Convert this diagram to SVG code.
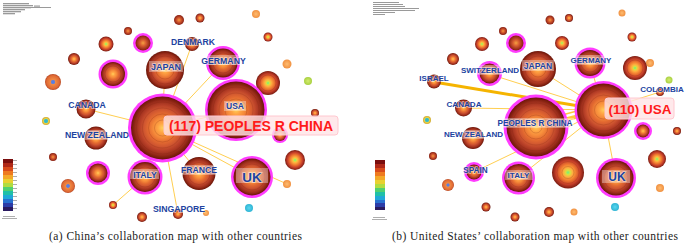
<svg xmlns="http://www.w3.org/2000/svg" width="685" height="243" viewBox="0 0 685 243">
<defs>
<radialGradient id="rA"><stop offset="0" stop-color="#ffcf5a"/><stop offset="0.15" stop-color="#ffa444"/><stop offset="0.3" stop-color="#f58a3a"/><stop offset="0.45" stop-color="#e36a30"/><stop offset="0.6" stop-color="#cf5530"/><stop offset="0.72" stop-color="#b84028"/><stop offset="0.85" stop-color="#9c2e1c"/><stop offset="0.93" stop-color="#82200f"/><stop offset="1" stop-color="#6a160c"/></radialGradient>
<radialGradient id="rG"><stop offset="0" stop-color="#6cf080"/><stop offset="0.14" stop-color="#d8e040"/><stop offset="0.28" stop-color="#ffb040"/><stop offset="0.5" stop-color="#f07a30"/><stop offset="0.75" stop-color="#c8402a"/><stop offset="1" stop-color="#7a1c12"/></radialGradient>
<radialGradient id="rB"><stop offset="0" stop-color="#4a7cf0"/><stop offset="0.22" stop-color="#6a80d0"/><stop offset="0.32" stop-color="#f08a44"/><stop offset="0.8" stop-color="#e06a34"/><stop offset="1" stop-color="#b84a26"/></radialGradient>
<radialGradient id="rC"><stop offset="0" stop-color="#58d8f0"/><stop offset="1" stop-color="#30b4d4"/></radialGradient>
<radialGradient id="rY"><stop offset="0" stop-color="#30b0c8"/><stop offset="0.45" stop-color="#40c0c4"/><stop offset="0.6" stop-color="#e8d448"/><stop offset="1" stop-color="#d0a830"/></radialGradient>
<radialGradient id="rL"><stop offset="0" stop-color="#ffbc70"/><stop offset="1" stop-color="#f09040"/></radialGradient>
<radialGradient id="rLG"><stop offset="0" stop-color="#d4ec70"/><stop offset="1" stop-color="#a8d040"/></radialGradient>
<radialGradient id="rD"><stop offset="0" stop-color="#f5a040"/><stop offset="0.4" stop-color="#d85c30"/><stop offset="1" stop-color="#861e12"/></radialGradient>
<style>
.e{stroke:#ffc83c;stroke-width:0.9;fill:none}
.et{stroke:#f5b400;stroke-width:3;fill:none}
.h{fill:#ff3cff}
.rl{fill:none;stroke:#7a200e;stroke-opacity:0.3;stroke-width:0.7}
.lb{font-family:"Liberation Sans",Arial,sans-serif;font-weight:bold;fill:#2142a0;text-anchor:middle;stroke:#ffffff;stroke-width:1.4;stroke-opacity:0.55;paint-order:stroke}
.bx{fill:#ffffff;fill-opacity:0.35}
.big{font-family:"Liberation Sans",Arial,sans-serif;font-weight:bold;fill:#ff1a1a;text-anchor:middle}
.pb{fill:#ffe4e6;fill-opacity:0.8;stroke:#ffc8d0;stroke-width:1}
.cap{font-family:"Liberation Serif","Times New Roman",serif;font-size:11.5px;fill:#222}
.hd{fill:#9a9a9a}
</style>
</defs>
<rect width="685" height="243" fill="#ffffff"/>

<!-- header text blocks (illegible in source) -->
<g id="header-a">
<rect class="hd" x="3" y="3" width="26" height="1.3"/><rect class="hd" x="3" y="5" width="30" height="1.3"/><rect class="hd" x="3" y="7" width="28" height="1.3"/><rect class="hd" x="34" y="5.5" width="6" height="1.2"/><rect class="hd" x="30" y="7" width="21" height="1"/><rect class="hd" x="3" y="9" width="22" height="1.3"/><rect class="hd" x="3" y="11" width="18" height="1.3"/><rect class="hd" x="3" y="13" width="12" height="1.3"/>
</g>
<g id="header-b">
<rect class="hd" x="373" y="2" width="26" height="1"/><rect class="hd" x="373" y="4" width="30" height="1"/><rect class="hd" x="373" y="6" width="32" height="1"/><rect class="hd" x="373" y="8" width="46" height="1"/><rect class="hd" x="373" y="10" width="42" height="1"/><rect class="hd" x="373" y="12" width="22" height="1"/><rect class="hd" x="373" y="14" width="12" height="1"/>
</g>

<!-- legends -->
<g id="legend-a">
<rect x="3" y="159" width="10" height="4" fill="#7a0e0e"/><rect x="3" y="163" width="10" height="4" fill="#b02818"/><rect x="3" y="167" width="10" height="4" fill="#d84a1c"/><rect x="3" y="171" width="10" height="4" fill="#ee7a20"/><rect x="3" y="175" width="10" height="4" fill="#f4a828"/><rect x="3" y="179" width="10" height="4" fill="#e8d030"/><rect x="3" y="183" width="10" height="4" fill="#b0dc40"/><rect x="3" y="187" width="10" height="4" fill="#50d070"/><rect x="3" y="191" width="10" height="4" fill="#20c0a8"/><rect x="3" y="195" width="10" height="4" fill="#20a8d8"/><rect x="3" y="199" width="10" height="4" fill="#2870d0"/><rect x="3" y="203" width="10" height="4" fill="#2c3ca8"/><rect x="3" y="207" width="10" height="4" fill="#2a1a60"/>
<rect class="hd" x="13" y="160" width="4" height="0.8"/><rect class="hd" x="13" y="164" width="4" height="0.8"/><rect class="hd" x="13" y="168" width="4" height="0.8"/><rect class="hd" x="13" y="172" width="4" height="0.8"/><rect class="hd" x="13" y="176" width="4" height="0.8"/><rect class="hd" x="13" y="180" width="4" height="0.8"/><rect class="hd" x="13" y="184" width="4" height="0.8"/><rect class="hd" x="13" y="188" width="4" height="0.8"/><rect class="hd" x="13" y="192" width="4" height="0.8"/><rect class="hd" x="13" y="196" width="4" height="0.8"/><rect class="hd" x="13" y="200" width="4" height="0.8"/><rect class="hd" x="13" y="204" width="4" height="0.8"/><rect class="hd" x="13" y="208" width="4" height="0.8"/>
<rect class="hd" x="3" y="216" width="12" height="0.8"/><rect class="hd" x="2" y="218" width="15" height="0.8"/>
</g>
<g id="legend-b">
<rect x="375" y="160" width="10" height="4" fill="#7a0e0e"/><rect x="375" y="164" width="10" height="4" fill="#b02818"/><rect x="375" y="168" width="10" height="4" fill="#d84a1c"/><rect x="375" y="172" width="10" height="4" fill="#ee7a20"/><rect x="375" y="176" width="10" height="4" fill="#f4a828"/><rect x="375" y="180" width="10" height="4" fill="#e8d030"/><rect x="375" y="184" width="10" height="4" fill="#b0dc40"/><rect x="375" y="188" width="10" height="4" fill="#50d070"/><rect x="375" y="192" width="10" height="4" fill="#20c0a8"/><rect x="375" y="196" width="10" height="4" fill="#20a8d8"/><rect x="375" y="200" width="10" height="3" fill="#2870d0"/><rect x="375" y="203" width="10" height="4" fill="#2c3ca8"/><rect x="375" y="207" width="10" height="3" fill="#2a1a60"/>
<rect class="hd" x="373" y="217" width="12" height="0.8"/><rect class="hd" x="372" y="219" width="15" height="0.8"/>
</g>

<!-- connectors -->
<g id="connectors">
<line class="e" x1="162" y1="128" x2="165" y2="70"/>
<line class="e" x1="162" y1="128" x2="192" y2="44"/>
<line class="e" x1="162" y1="128" x2="223" y2="63"/>
<line class="e" x1="162" y1="128" x2="236" y2="110"/>
<line class="e" x1="162" y1="128" x2="86" y2="109"/>
<line class="e" x1="162" y1="128" x2="96" y2="138"/>
<line class="e" x1="162" y1="128" x2="145" y2="177"/>
<line class="e" x1="162" y1="128" x2="199" y2="173"/>
<line class="e" x1="162" y1="128" x2="252" y2="177"/>
<line class="e" x1="162" y1="128" x2="287" y2="184"/>
<line class="e" x1="162" y1="128" x2="178" y2="214"/>
<line class="e" x1="145" y1="177" x2="113" y2="205"/>

<line class="et" x1="434" y1="82" x2="603" y2="110"/>
<line class="e" x1="489" y1="74" x2="603" y2="110"/>
<line class="e" x1="538" y1="69" x2="603" y2="110"/>
<line class="e" x1="590" y1="63" x2="603" y2="110"/>
<line class="e" x1="463" y1="108" x2="603" y2="110"/>
<line class="e" x1="660" y1="92" x2="603" y2="110"/>
<line class="e" x1="536" y1="127" x2="603" y2="110" style="stroke-width:4"/>
<line class="e" x1="536" y1="122" x2="603" y2="104" style="stroke-width:1.5"/>
<line class="e" x1="616" y1="178" x2="603" y2="110"/>
<line class="e" x1="474" y1="172" x2="603" y2="110"/>
<line class="e" x1="518" y1="178" x2="603" y2="110"/>
</g>

<!-- ===== panel (a) nodes ===== -->
<g id="a-n1"><circle cx="179" cy="20" r="5" fill="url(#rD)"/></g>
<g id="a-n2"><circle cx="200" cy="18" r="4.5" fill="url(#rA)"/></g>
<g id="a-n3"><circle cx="256" cy="14" r="4" fill="url(#rL)"/></g>
<g id="a-n4"><circle cx="128" cy="31" r="4" fill="url(#rD)"/></g>
<g id="a-n5"><circle cx="106" cy="44" r="7.5" fill="url(#rG)"/></g>
<g id="a-n6"><circle class="h" cx="143" cy="43" r="10"/><circle cx="143" cy="43" r="7.5" fill="url(#rD)"/></g>
<g id="a-n7"><circle cx="74" cy="59" r="6" fill="url(#rA)"/></g>
<g id="a-n8"><circle cx="268" cy="37" r="4.5" fill="url(#rG)"/></g>
<g id="a-n9"><circle cx="287" cy="64" r="4.5" fill="url(#rL)"/></g>
<g id="a-n10"><circle cx="308" cy="81" r="4" fill="url(#rLG)"/></g>
<g id="a-n11"><circle cx="268" cy="83" r="12" fill="url(#rG)"/><circle class="rl" cx="268" cy="83" r="8"/></g>
<g id="a-n12"><circle class="h" cx="113" cy="74" r="14.5"/><circle cx="113" cy="74" r="12" fill="url(#rA)"/><circle class="rl" cx="113" cy="74" r="8"/></g>
<g id="a-n13"><circle cx="53" cy="82" r="8" fill="url(#rB)"/></g>
<g id="a-n14"><circle cx="46" cy="121" r="4" fill="url(#rY)"/></g>
<g id="a-n15"><circle cx="53" cy="157" r="4" fill="url(#rD)"/></g>
<g id="a-n16"><circle class="h" cx="98" cy="173" r="12"/><circle cx="98" cy="173" r="9.5" fill="url(#rA)"/></g>
<g id="a-n17"><circle cx="68" cy="186" r="7" fill="url(#rB)"/></g>
<g id="a-n18"><circle cx="113" cy="205" r="4" fill="url(#rG)"/></g>
<g id="a-n19"><circle cx="142" cy="217" r="5" fill="url(#rA)"/></g>
<g id="a-n20"><circle cx="206" cy="213" r="3" fill="url(#rL)"/></g>
<g id="a-n21"><circle cx="249" cy="208" r="4" fill="url(#rC)"/></g>
<g id="a-n22"><circle cx="287" cy="184" r="4" fill="url(#rL)"/></g>
<g id="a-n23"><circle cx="295" cy="160" r="10" fill="url(#rG)"/></g>
<g id="a-n24"><circle cx="315" cy="113" r="4" fill="url(#rA)"/></g>
<g id="a-n25"><circle class="h" cx="280" cy="135" r="8"/><circle cx="280" cy="135" r="6" fill="url(#rA)"/></g>

<g id="a-japan"><circle cx="165" cy="70" r="19" fill="url(#rA)"/><circle class="rl" cx="165" cy="70" r="14"/><circle class="rl" cx="165" cy="70" r="9"/><rect class="bx" x="149" y="61" width="34" height="11"/><text class="lb" x="166" y="70" font-size="9">JAPAN</text></g>
<g id="a-denmark"><circle cx="192" cy="44" r="7" fill="url(#rA)"/><text class="lb" x="193" y="44.5" font-size="8.6">DENMARK</text></g>
<g id="a-germany"><circle class="h" cx="223" cy="63" r="17"/><circle cx="223" cy="63" r="14.5" fill="url(#rA)"/><circle class="rl" cx="223" cy="63" r="10"/><rect class="bx" x="200" y="55" width="47" height="10"/><text class="lb" x="223.5" y="63.5" font-size="8.7">GERMANY</text></g>
<g id="a-usa"><circle class="h" cx="236" cy="110" r="31"/><circle cx="236" cy="110" r="28.5" fill="url(#rA)"/><circle class="rl" cx="236" cy="110" r="23"/><circle class="rl" cx="236" cy="110" r="17"/><circle class="rl" cx="236" cy="110" r="11"/><rect class="bx" x="224" y="101" width="22" height="10"/><text class="lb" x="235" y="109" font-size="8.5">USA</text></g>
<g id="a-canada"><circle cx="86" cy="109" r="9.5" fill="url(#rA)"/><text class="lb" x="87" y="108" font-size="8.7">CANADA</text></g>
<g id="a-newzealand"><circle cx="96" cy="138" r="11.5" fill="url(#rA)"/><rect class="bx" x="63" y="130" width="67" height="10"/><text class="lb" x="97" y="138" font-size="8.7">NEW ZEALAND</text></g>
<g id="a-china"><circle class="h" cx="162.5" cy="128" r="34.5"/><circle cx="162.5" cy="128" r="31.5" fill="url(#rA)"/><circle class="rl" cx="162.5" cy="128" r="26"/><circle class="rl" cx="162.5" cy="128" r="20"/><circle class="rl" cx="162.5" cy="128" r="14"/><circle class="rl" cx="162.5" cy="128" r="8"/>
<rect class="pb" x="164" y="116" width="174" height="19" rx="3"/><text class="big" x="251" y="131" font-size="14">(117) PEOPLES R CHINA</text></g>
<g id="a-italy"><circle class="h" cx="145" cy="177" r="17.5"/><circle cx="145" cy="177" r="15" fill="url(#rA)"/><circle class="rl" cx="145" cy="177" r="10"/><rect class="bx" x="130" y="169" width="29" height="10"/><text class="lb" x="145" y="178" font-size="8.7">ITALY</text></g>
<g id="a-france"><circle cx="199" cy="173.5" r="16.5" fill="url(#rA)"/><circle class="rl" cx="199" cy="173.5" r="11"/><rect class="bx" x="180" y="165" width="38" height="10"/><text class="lb" x="199" y="173" font-size="8.7">FRANCE</text></g>
<g id="a-uk"><circle class="h" cx="252" cy="177" r="21"/><circle cx="252" cy="177" r="18.5" fill="url(#rA)"/><circle class="rl" cx="252" cy="177" r="13"/><rect class="bx" x="236" y="168" width="32" height="15"/><text class="lb" x="252" y="182" font-size="13.5">UK</text></g>
<g id="a-singapore"><circle cx="178" cy="214" r="5" fill="url(#rA)"/><text class="lb" x="179" y="212" font-size="8.7">SINGAPORE</text></g>

<!-- ===== panel (b) nodes ===== -->
<g id="b-n1"><circle cx="550" cy="20" r="4.5" fill="url(#rD)"/></g>
<g id="b-n2"><circle cx="569" cy="18" r="4" fill="url(#rA)"/></g>
<g id="b-n3"><circle cx="622" cy="13" r="3.5" fill="url(#rL)"/></g>
<g id="b-n4"><circle cx="503" cy="31" r="4" fill="url(#rD)"/></g>
<g id="b-n5"><circle cx="482" cy="44" r="7" fill="url(#rG)"/></g>
<g id="b-n6"><circle class="h" cx="516" cy="43" r="10"/><circle cx="516" cy="43" r="7.5" fill="url(#rD)"/></g>
<g id="b-n7"><circle cx="562" cy="43" r="7" fill="url(#rG)"/></g>
<g id="b-n8"><circle cx="632" cy="37" r="4.5" fill="url(#rG)"/></g>
<g id="b-n9"><circle cx="650" cy="63" r="4" fill="url(#rL)"/></g>
<g id="b-n10"><circle cx="669" cy="80" r="3.5" fill="url(#rLG)"/></g>
<g id="b-n11"><circle cx="635" cy="68" r="12" fill="url(#rG)"/><circle class="rl" cx="635" cy="68" r="8"/></g>
<g id="b-n12"><circle cx="453" cy="59" r="6" fill="url(#rA)"/></g>
<g id="b-n13"><circle cx="427" cy="120" r="4" fill="url(#rY)"/></g>
<g id="b-n14"><circle cx="433" cy="156" r="4" fill="url(#rD)"/></g>
<g id="b-n15"><circle cx="448" cy="185" r="6" fill="url(#rB)"/></g>
<g id="b-n16"><circle cx="486" cy="207" r="4.5" fill="url(#rA)"/></g>
<g id="b-n17"><circle cx="515" cy="217" r="4.5" fill="url(#rA)"/></g>
<g id="b-n18"><circle cx="549" cy="212" r="5" fill="url(#rA)"/></g>
<g id="b-n19"><circle cx="574" cy="212" r="3.5" fill="url(#rL)"/></g>
<g id="b-n20"><circle cx="615" cy="207" r="4" fill="url(#rC)"/></g>
<g id="b-n21"><circle cx="660" cy="188" r="4" fill="url(#rL)"/></g>
<g id="b-n22"><circle cx="657" cy="159" r="9" fill="url(#rG)"/></g>
<g id="b-n23"><circle class="h" cx="643" cy="131" r="9"/><circle cx="643" cy="131" r="6.5" fill="url(#rA)"/></g>
<g id="b-n24"><circle cx="677" cy="131" r="4" fill="url(#rA)"/></g>
<g id="b-n25"><circle cx="568" cy="172.5" r="16" fill="url(#rG)"/><circle class="rl" cx="568" cy="172.5" r="11"/><circle class="rl" cx="568" cy="172.5" r="6"/></g>

<g id="b-japan"><circle cx="538" cy="69" r="18" fill="url(#rA)"/><circle class="rl" cx="538" cy="69" r="13"/><circle class="rl" cx="538" cy="69" r="8"/><rect class="bx" x="522" y="60" width="32" height="11"/><text class="lb" x="538" y="69" font-size="8.6">JAPAN</text></g>
<g id="b-germany"><circle class="h" cx="590" cy="63" r="15.5"/><circle cx="590" cy="63" r="13" fill="url(#rA)"/><circle class="rl" cx="590" cy="63" r="9"/><rect class="bx" x="570" y="55" width="43" height="10"/><text class="lb" x="591" y="63" font-size="8">GERMANY</text></g>
<g id="b-switzerland"><circle class="h" cx="489.5" cy="73.5" r="12.5"/><circle cx="489.5" cy="73.5" r="10" fill="url(#rA)"/><rect class="bx" x="460" y="65" width="60" height="10"/><text class="lb" x="490" y="73" font-size="8">SWITZERLAND</text></g>
<g id="b-israel"><circle cx="434" cy="81.5" r="7" fill="url(#rA)"/><text class="lb" x="434" y="81" font-size="8">ISRAEL</text></g>
<g id="b-canada"><circle cx="463.5" cy="108" r="8.5" fill="url(#rA)"/><text class="lb" x="464" y="107" font-size="8.1">CANADA</text></g>
<g id="b-colombia"><circle cx="660" cy="92" r="4" fill="url(#rA)"/><text class="lb" x="662" y="92" font-size="8">COLOMBIA</text></g>
<g id="b-china"><circle class="h" cx="536" cy="127" r="32.5"/><circle cx="536" cy="127" r="29.5" fill="url(#rA)"/><circle class="rl" cx="536" cy="127" r="24"/><circle class="rl" cx="536" cy="127" r="18"/><circle class="rl" cx="536" cy="127" r="12"/><circle class="rl" cx="536" cy="127" r="6"/><rect class="bx" x="496" y="118" width="78" height="10"/><text class="lb" x="535" y="126" font-size="8.2">PEOPLES R CHINA</text></g>
<g id="b-newzealand"><circle cx="473" cy="138" r="11" fill="url(#rA)"/><rect class="bx" x="443" y="130" width="61" height="9"/><text class="lb" x="473.5" y="137" font-size="8">NEW ZEALAND</text></g>
<g id="b-usa"><circle class="h" cx="603.5" cy="110" r="29"/><circle cx="603.5" cy="110" r="26.5" fill="url(#rA)"/><circle class="rl" cx="603.5" cy="110" r="21"/><circle class="rl" cx="603.5" cy="110" r="15"/><circle class="rl" cx="603.5" cy="110" r="9"/>
<rect class="pb" x="605" y="98" width="69" height="21" rx="3"/><text class="big" x="640" y="114" font-size="13.5">(110) USA</text></g>
<g id="b-spain"><circle class="h" cx="474" cy="172" r="10"/><circle cx="474" cy="172" r="7.5" fill="url(#rA)"/><text class="lb" x="475.5" y="173" font-size="8.2">SPAIN</text></g>
<g id="b-italy"><circle class="h" cx="518.5" cy="178" r="16.5"/><circle cx="518.5" cy="178" r="14" fill="url(#rA)"/><circle class="rl" cx="518.5" cy="178" r="9"/><rect class="bx" x="505" y="170" width="28" height="10"/><text class="lb" x="518.5" y="177.5" font-size="8">ITALY</text></g>
<g id="b-uk"><circle class="h" cx="616" cy="178" r="20"/><circle cx="616" cy="178" r="17.5" fill="url(#rA)"/><circle class="rl" cx="616" cy="178" r="12"/><rect class="bx" x="602" y="170" width="28" height="13"/><text class="lb" x="617" y="181" font-size="12">UK</text></g>

<!-- captions -->
<text class="cap" x="49" y="240" textLength="253" lengthAdjust="spacing">(a) China’s collaboration map with other countries</text>
<text class="cap" x="392" y="240" textLength="286" lengthAdjust="spacing">(b) United States’ collaboration map with other countries</text>
</svg>
